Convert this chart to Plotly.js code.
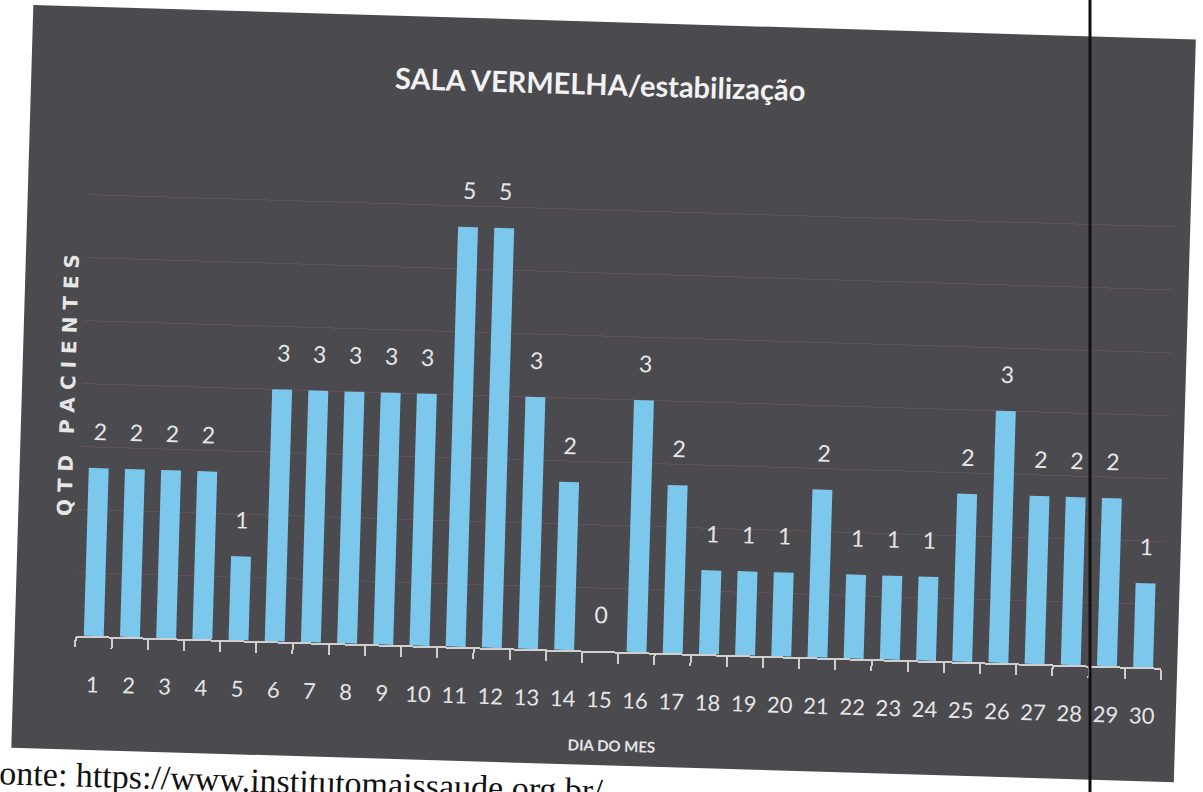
<!DOCTYPE html>
<html>
<head>
<meta charset="utf-8">
<script src="https://cdn.plot.ly/plotly-3.0.1.min.js"></script>
<style>
  html, body { margin: 0; padding: 0; background: #ffffff; overflow: hidden; width: 1203px; height: 792px; }
  #chart {
    position: absolute; left: -20px; top: -19px;
    width: 1243px; height: 830px;
    transform: rotate(1.7deg); transform-origin: 621.5px 415px;
  }
</style>
</head>
<body>
<div id="chart"></div>
<script>
// data
var dias = ['1','2','3','4','5','6','7','8','9','10','11','12','13','14','15',
            '16','17','18','19','20','21','22','23','24','25','26','27','28','29','30'];
var pacientes = [2,2,2,2,1,3,3,3,3,3,5,5,3,2,0,3,2,1,1,1,2,1,1,1,2,3,2,2,2,1];

var tituloTexto = 'SALA VERMELHA/estabilização';
var eixoY = 'Q T D   P A C I E N T E S';
var eixoX = 'DIA DO MES';
var fonteTexto = 'Fonte: https://www.institutomaissaude.org.br/';

// page geometry (the chart div is bigger than the window and turned a little)
var W = 1243, H = 830, OX = -20, OY = -19;
var ML = 103, MR = 54, MT = 166, MB = 160;
var PW = W - ML - MR, PH = H - MT - MB;
var ANG = 1.7 * Math.PI / 180;

function px(x) { return (x - ML) / PW; }
function py(y) { return (H - MB - y) / PH; }
// screen point -> point in the unrotated div
function toDiv(sx, sy) {
    var dx = sx - 601.5, dy = sy - 396, c = Math.cos(ANG), s = Math.sin(ANG);
    return [dx * c + dy * s + 601.5 - OX, -dx * s + dy * c + 396 - OY];
}

var narrow = "Lato, 'Liberation Sans', sans-serif";
var claro = '#e6e6e6';

// value labels over the bars (x given as category index)
var rotulos = pacientes.map(function (v, i) {
    return {
        x: i, y: v, xref: 'x', yref: 'y',
        text: String(v), showarrow: false,
        yanchor: 'middle', yshift: 37,
        font: {family: narrow, size: 23, color: claro}
    };
});

var topo = toDiv(1090, -40), base = toDiv(1090, 830);

var layout = {
    width: W, height: H,
    margin: {l: ML, r: MR, t: MT, b: MB},
    paper_bgcolor: '#ffffff',
    plot_bgcolor: 'rgba(0,0,0,0)',
    showlegend: false,
    bargap: 0.45,
    title: {
        text: tituloTexto,
        xref: 'container', yref: 'container',
        x: 611 / W, y: 1 - 104 / H, xanchor: 'center', yanchor: 'middle',
        font: {family: narrow, size: 29, color: '#f2f2f2', weight: 'bold'}
    },
    xaxis: {
        type: 'category',
        range: [-0.5, dias.length - 0.5],
        showline: true, linecolor: '#cfcfcf', linewidth: 2,
        ticks: 'outside', tickson: 'boundaries', ticklen: 10, tickwidth: 2, tickcolor: '#cfcfcf',
        tickangle: 0,
        ticklabelstandoff: 28,
        tickfont: {family: narrow, size: 22, color: claro},
        showgrid: false, zeroline: false, fixedrange: true
    },
    yaxis: {
        range: [0, 6],
        showticklabels: false, ticks: '',
        showgrid: true, gridcolor: 'rgba(160,95,110,0.30)', gridwidth: 1,
        tick0: 0, dtick: 0.75,
        zeroline: false, showline: false, fixedrange: true
    },
    shapes: [
        {type: 'rect', xref: 'paper', yref: 'paper', layer: 'below',
         x0: px(42), x1: px(1205), y0: py(784), y1: py(41),
         fillcolor: '#4b4a4f', line: {width: 0}},
        {type: 'line', xref: 'paper', yref: 'paper', layer: 'above',
         x0: px(topo[0]), y0: py(topo[1]), x1: px(base[0]), y1: py(base[1]),
         line: {color: '#111111', width: 3}}
    ],
    annotations: rotulos.concat([
        {text: eixoY, xref: 'paper', yref: 'paper', x: px(88), y: py(420),
         textangle: -90, showarrow: false, xanchor: 'center', yanchor: 'middle',
         font: {family: 'DejaVu Sans, sans-serif', size: 20, color: claro, weight: 'bold'}},
        {text: eixoX, xref: 'paper', yref: 'paper', x: px(642), y: py(764),
         showarrow: false, xanchor: 'center', yanchor: 'middle',
         font: {family: narrow, size: 15, color: claro, weight: 'bold'}},
        {text: fonteTexto, xref: 'paper', yref: 'paper', x: px(10), y: py(809),
         showarrow: false, xanchor: 'left', yanchor: 'middle',
         font: {family: "'Liberation Serif', 'Times New Roman', serif", size: 34, color: '#111111'}}
    ])
};

var data = [{
    type: 'bar', x: dias, y: pacientes,
    marker: {color: '#7cc7ec', line: {width: 0}},
    hoverinfo: 'x+y'
}];

Plotly.newPlot('chart', data, layout, {staticPlot: true, displayModeBar: false});
</script>
</body>
</html>
